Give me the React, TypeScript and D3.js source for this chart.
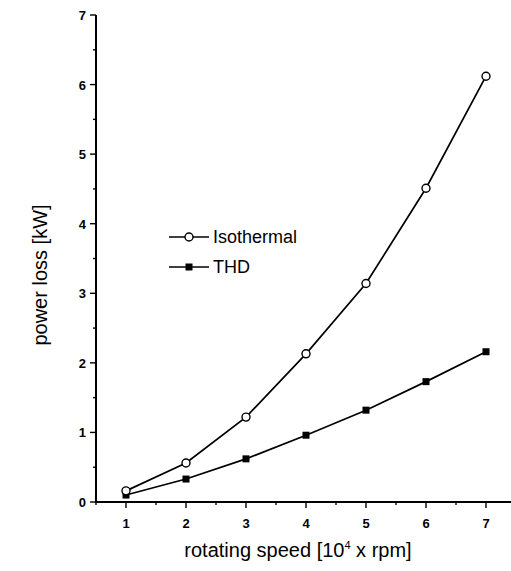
import React, { useEffect, useRef } from "react";
import * as d3 from "d3";

// values
const speeds = [1, 2, 3, 4, 5, 6, 7];
const isothermal = [0.16, 0.56, 1.22, 2.13, 3.14, 4.51, 6.12];
const thd = [0.1, 0.33, 0.62, 0.96, 1.32, 1.73, 2.16];
const xTicks = [1, 2, 3, 4, 5, 6, 7];
const yTicks = [0, 1, 2, 3, 4, 5, 6, 7];

const W = 511;
const H = 571;

export default function App() {
  const ref = useRef<SVGSVGElement>(null);

  useEffect(() => {
    const svg = d3.select(ref.current);
    svg.selectAll("*").remove();

    const x = d3.scaleLinear().domain([0.5, 7.5]).range([96, 516]);
    const y = d3.scaleLinear().domain([0, 7]).range([502, 15]);
    const font = "'Liberation Sans', Arial, sans-serif";

    // y axis
    const gy = svg.append("g");
    gy.append("line").attr("x1", 96).attr("x2", 96).attr("y1", y(7)).attr("y2", y(0) + 1)
      .attr("stroke", "#000").attr("stroke-width", 2);
    d3.range(0, 7.01, 0.5).forEach((v) => {
      const major = v % 1 === 0;
      gy.append("line").attr("x1", 96).attr("x2", major ? 90 : 93)
        .attr("y1", y(v)).attr("y2", y(v)).attr("stroke", "#000").attr("stroke-width", 1.4);
    });
    gy.selectAll("text").data(yTicks).enter().append("text")
      .attr("x", 86).attr("y", (d) => y(d) + 5).attr("text-anchor", "end")
      .attr("font-family", font).attr("font-weight", "bold").attr("font-size", 13)
      .text((d) => d);

    // x axis
    const gx = svg.append("g");
    gx.append("line").attr("x1", 95).attr("x2", W).attr("y1", 502).attr("y2", 502)
      .attr("stroke", "#000").attr("stroke-width", 2);
    d3.range(0.5, 7.51, 0.5).forEach((v) => {
      const major = v % 1 === 0;
      gx.append("line").attr("x1", x(v)).attr("x2", x(v))
        .attr("y1", 502).attr("y2", major ? 508 : 505).attr("stroke", "#000").attr("stroke-width", 1.4);
    });
    gx.selectAll("text").data(xTicks).enter().append("text")
      .attr("x", (d) => x(d)).attr("y", 528).attr("text-anchor", "middle")
      .attr("font-family", font).attr("font-weight", "bold").attr("font-size", 13)
      .text((d) => d);

    // titles
    const xt = svg.append("text").attr("x", 298).attr("y", 557).attr("text-anchor", "middle")
      .attr("font-family", font).attr("font-size", 20);
    xt.append("tspan").text("rotating speed [10");
    xt.append("tspan").attr("font-size", 11).attr("dy", -8).text("4");
    xt.append("tspan").attr("dy", 8).text(" x rpm]");

    svg.append("text").attr("transform", "translate(47,275) rotate(-90)")
      .attr("text-anchor", "middle").attr("font-family", font).attr("font-size", 20)
      .text("power loss [kW]");

    const line = d3.line<number>().x((_, i) => x(speeds[i])).y((d) => y(d));

    // THD
    svg.append("path").attr("d", line(thd)).attr("fill", "none").attr("stroke", "#000").attr("stroke-width", 1.7);
    svg.selectAll(".sq").data(thd).enter().append("rect")
      .attr("x", (_, i) => x(speeds[i]) - 3.5).attr("y", (d) => y(d) - 3.5)
      .attr("width", 7).attr("height", 7).attr("fill", "#000");

    // Isothermal
    svg.append("path").attr("d", line(isothermal)).attr("fill", "none").attr("stroke", "#000").attr("stroke-width", 1.7);
    svg.selectAll(".ci").data(isothermal).enter().append("circle")
      .attr("cx", (_, i) => x(speeds[i])).attr("cy", (d) => y(d)).attr("r", 4)
      .attr("fill", "#fff").attr("stroke", "#000").attr("stroke-width", 1.4);

    // legend
    const lg = svg.append("g");
    const rows = [
      { name: "Isothermal", y: 237, marker: "circle" },
      { name: "THD", y: 267, marker: "square" },
    ];
    rows.forEach((r) => {
      lg.append("line").attr("x1", 169).attr("x2", 209).attr("y1", r.y).attr("y2", r.y)
        .attr("stroke", "#000").attr("stroke-width", 1.7);
      if (r.marker === "circle") {
        lg.append("circle").attr("cx", 189).attr("cy", r.y).attr("r", 4)
          .attr("fill", "#fff").attr("stroke", "#000").attr("stroke-width", 1.4);
      } else {
        lg.append("rect").attr("x", 185.5).attr("y", r.y - 3.5).attr("width", 7).attr("height", 7).attr("fill", "#000");
      }
      lg.append("text").attr("x", 213).attr("y", r.y + 6).attr("font-family", font)
        .attr("font-size", 18).text(r.name);
    });
  }, []);

  return <svg ref={ref} width={W} height={H} style={{ position: "absolute", left: 0, top: 0, background: "#fff" }} />;
}
